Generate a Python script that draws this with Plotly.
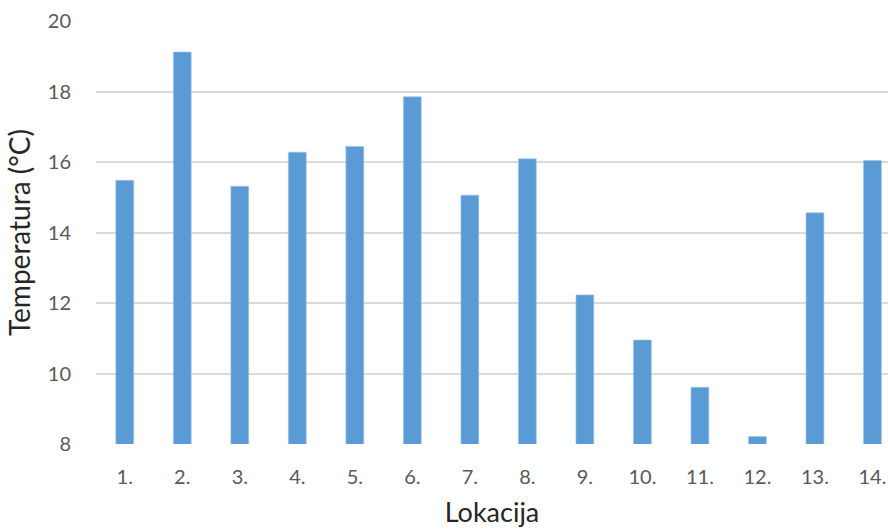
import plotly.graph_objects as go

# Temperature per location
lokacije = ["1.", "2.", "3.", "4.", "5.", "6.", "7.", "8.", "9.", "10.", "11.", "12.", "13.", "14."]
temperature = [15.48, 19.12, 15.31, 16.28, 16.44, 17.85, 15.06, 16.09, 12.23, 10.95, 9.61, 8.21, 14.56, 16.04]
y_ticks = [8, 10, 12, 14, 16, 18, 20]

fig = go.Figure(
    go.Bar(
        x=list(range(len(lokacije))),
        y=temperature,
        width=0.31,
        marker=dict(color="#5B9BD5", line=dict(color="#9DC3E6", width=0.6)),
        base=0,
    )
)

font_family = "Lato, Open Sans, sans-serif"

fig.update_layout(
    width=888,
    height=531,
    margin=dict(l=96, r=0, t=21, b=87),
    plot_bgcolor="white",
    paper_bgcolor="white",
    showlegend=False,
    font=dict(family=font_family, color="#595959"),
    xaxis=dict(
        tickmode="array",
        tickvals=list(range(len(lokacije))),
        ticktext=lokacije,
        range=[-0.5, 13.27],
        showgrid=False,
        showline=False,
        zeroline=False,
        tickfont=dict(size=20, color="#595959"),
        ticklabelstandoff=19,
        title=dict(text="Lokacija", font=dict(size=27, color="#262626"), standoff=16),
    ),
    yaxis=dict(
        range=[8, 20],
        tickvals=y_ticks,
        showgrid=True,
        gridcolor="#D9D9D9",
        gridwidth=1.5,
        zeroline=False,
        showline=False,
        tickfont=dict(size=20, color="#595959"),
        ticklabelstandoff=24,
        title=dict(text="Temperatura (°C)", font=dict(size=28, color="#262626"), standoff=8),
    ),
)

fig.write_html("out.html")
